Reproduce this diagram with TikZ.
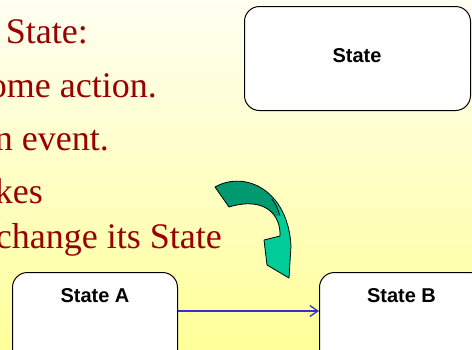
\documentclass[tikz,border=0pt]{standalone}
\usepackage{fontspec}
\setmainfont{Liberation Serif}
\newfontfamily\labelfont{Liberation Sans}
\usetikzlibrary{arrows.meta}

\definecolor{bgtop}{HTML}{FFFFF2}
\definecolor{bgmid}{HTML}{FFFFCC}
\definecolor{bgbottom}{HTML}{FFFF99}
\definecolor{textred}{HTML}{990000}
\definecolor{linkblue}{HTML}{3333CC}
\definecolor{ribbondark}{HTML}{009970}
\definecolor{ribbonlight}{HTML}{00CC99}

\tikzset{
  bullettext/.style={anchor=base east, inner sep=0pt, text=textred,
    font=\fontsize{36}{40}\selectfont},
  statebox/.style={draw=black, line width=1pt, fill=white,
    rounded corners=15pt, inner sep=0pt, anchor=north west},
  statelabel/.style={anchor=base, inner sep=0pt,
    font=\labelfont\bfseries\fontsize{20}{24}\selectfont},
  transition/.style={draw=linkblue, line width=1.3pt,
    -{Straight Barb[length=8pt,width=11pt,line width=1.3pt]}},
  ribbonedge/.style={draw=black, line width=0.8pt}
}

\begin{document}
\begin{tikzpicture}[x=1pt, y=-1pt]
  % page area and slide background
  \clip (0,0) rectangle (472,349);
  \shade[top color=bgtop, middle color=bgmid, bottom color=bgbottom]
    (0,0) rectangle (472,349);

  % bullet text
  \node[bullettext] (t1) at (88,43) {State:};
  \node[bullettext] (t2) at (157,97) {ome action.};
  \node[bullettext] (t3) at (109,150) {n event.};
  \node[bullettext] (t4) at (43,203) {kes};
  \node[bullettext] (t5) at (222,248) {change its State};

  % generic state
  \node[statebox, minimum width=226pt, minimum height=104pt] (state) at (244,6) {};
  \node[statelabel] (statetext) at (357,62) {State};

  % two states and the transition between them
  \node[statebox, minimum width=165pt, minimum height=100pt] (sa) at (12,272) {};
  \node[statebox, minimum width=165pt, minimum height=100pt] (sb) at (319,272) {};
  \node[statelabel] (satext) at (95,302) {State A};
  \node[statelabel] (sbtext) at (401.5,302) {State B};
  \coordinate (tfrom) at (sa.east |- 0,311);
  \coordinate (tto) at (sb.west |- 0,311);
  \draw[transition] (tfrom) -- (tto);

  % curved block arrow
  \def\ribbon{(215,187) .. controls (245,170) and (288,190) .. (291,246)
    -- (289,278) -- (267,265) -- (264,240) -- (280,236)
    .. controls (281,215) and (265,196) .. (229,207) -- cycle}
  \fill[ribbonlight] \ribbon;
  \begin{scope}
    \clip \ribbon;
    \fill[ribbondark] (200,160) -- (268,160) -- (273,200) -- (280,215)
      -- (200,240) -- cycle;
    \draw[ribbonedge] (272,199) .. controls (276,204) and (278,209) .. (280,216);
  \end{scope}
  \draw[ribbonedge, line join=round] \ribbon;
\end{tikzpicture}
\end{document}
